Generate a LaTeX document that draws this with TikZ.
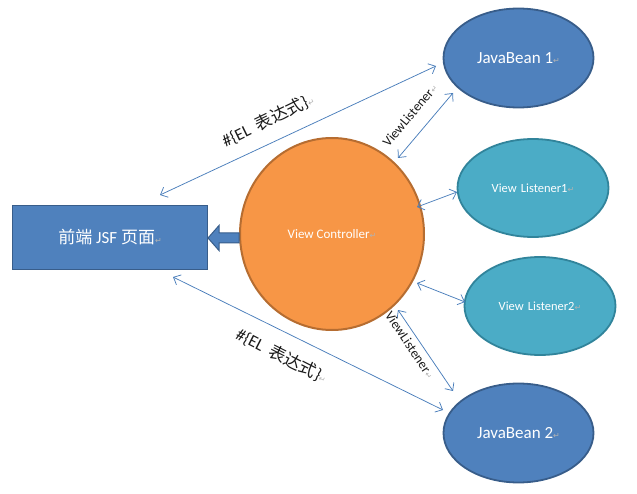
\documentclass[tikz,border=0pt]{standalone}
\usepackage{fontspec}
\setmainfont{Carlito}
\newfontfamily\cjk{Noto Sans CJK SC}
\newfontfamily\symf{DejaVu Sans}
\usetikzlibrary{arrows.meta,shapes.geometric}
\definecolor{jsfblue}{HTML}{4F81BD}
\definecolor{jsfborder}{HTML}{385D8A}
\definecolor{vlfill}{HTML}{4BACC6}
\definecolor{vlborder}{HTML}{31849B}
\definecolor{ctlfill}{HTML}{F79646}
\definecolor{ctlborder}{HTML}{B66D31}
\definecolor{linkblue}{HTML}{4A7EBB}
\definecolor{labeltext}{HTML}{1A1A1A}
\newcommand{\retmark}{{\symf\color{gray!60}\fontsize{8}{8}\selectfont ↵}}
\begin{document}
\begin{tikzpicture}[x=1pt,y=-1pt,
  beanbox/.style={ellipse,draw=jsfborder,line width=1.8pt,fill=jsfblue,inner sep=0pt,
    minimum width=150pt,minimum height=99pt,text=white,font=\fontsize{17}{19}\selectfont},
  vlbox/.style={ellipse,draw=vlborder,line width=1.8pt,fill=vlfill,inner sep=0pt,
    minimum width=151pt,minimum height=98pt,text=white,font=\fontsize{12.5}{14}\selectfont},
  link/.style={draw=linkblue,line width=0.75pt,{Straight Barb[length=6pt,width=11pt]}-{Straight Barb[length=6pt,width=11pt]}},
  ellabel/.style={text=labeltext,font=\fontsize{17}{19}\selectfont,inner sep=0pt},
  vllabel/.style={text=labeltext,font=\fontsize{13.5}{15}\selectfont,inner sep=0pt}
]
\useasboundingbox (0,0) rectangle (637,494);

% nodes
\node[draw=jsfborder,line width=1.5pt,fill=jsfblue,minimum width=195pt,minimum height=64pt,
  inner sep=0pt,text=white,font=\fontsize{17}{19}\selectfont] (jsf) at (110,237.5)
  {{\cjk 前端} JSF {\cjk 页面}\retmark};
\node[ellipse,draw=ctlborder,line width=2pt,fill=ctlfill,inner sep=0pt,
  minimum width=184pt,minimum height=192pt,text=white,font=\fontsize{13}{15}\selectfont]
  (ctl) at (332,234) {View Controller\retmark};
\node[beanbox] (jb1) at (518.5,58) {JavaBean 1\retmark};
\node[beanbox] (jb2) at (518.5,433) {JavaBean 2\retmark};
\node[vlbox] (vl1) at (533,188) {View\,\,Listener1\retmark};
\node[vlbox] (vl2) at (540,306) {View\,\,Listener2\retmark};

% block arrow from controller to JSF page
\coordinate (bt) at (208,238);
\filldraw[fill=jsfblue,draw=jsfborder,line width=1pt]
  (ctl.west |- 0,233) -- (219,233) -- (219,225.5) -- (bt) -- (219,250.5) -- (219,243)
  -- (ctl.west |- 0,243) -- cycle;

% connector end points
\coordinate (a1) at (160,195);
\coordinate (a2) at (436,66);
\coordinate (b1) at (173,277);
\coordinate (b2) at (443,410);
\coordinate (c1) at (398,158);
\coordinate (c2) at (453,93);
\coordinate (d1) at (398,310);
\coordinate (d2) at (453,391);
\coordinate (e1) at (417,207);
\coordinate (e2) at (457,192);
\coordinate (f1) at (417,283);
\coordinate (f2) at (465,302);

\draw[link] (a1) -- (a2);
\draw[link] (b1) -- (b2);
\draw[link] (c1) -- (c2);
\draw[link] (d1) -- (d2);
\draw[link] (e1) -- (e2);
\draw[link] (f1) -- (f2);

% labels
\node[ellabel,rotate=26] (el1) at (268,120) {\#\{EL\ \ {\cjk 表达式}\}\retmark};
\node[ellabel,rotate=-27] (el2) at (282,356) {\#\{EL\ \ {\cjk 表达式}\}\retmark};
\node[vllabel,rotate=50] (vlt1) at (410,115) {ViewListener\retmark};
\node[vllabel,rotate=-56] (vlt2) at (410,345) {ViewListener\retmark};
\end{tikzpicture}
\end{document}
